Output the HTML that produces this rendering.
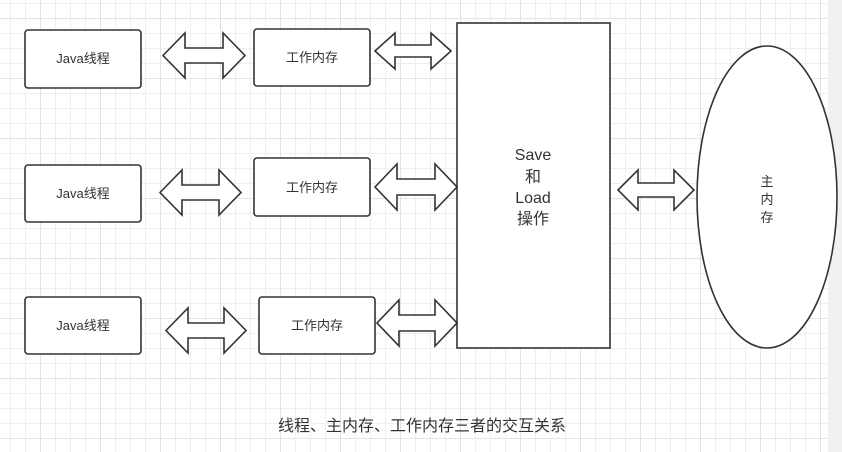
<!DOCTYPE html>
<html><head><meta charset="utf-8"><style>
html,body{margin:0;padding:0;background:#fff;}
svg{display:block;font-family:"Liberation Sans","Noto Sans CJK SC",sans-serif;}
</style></head><body>
<svg width="842" height="452" viewBox="0 0 842 452" xmlns="http://www.w3.org/2000/svg">
<defs>
<pattern id="minor" x="10" y="3" width="15" height="15" patternUnits="userSpaceOnUse">
<path d="M0 0V15M0 0H15" stroke="#eaeaea" stroke-width="1.5" fill="none"/>
</pattern>
<pattern id="major" x="40" y="18" width="60" height="60" patternUnits="userSpaceOnUse">
<path d="M0 0V60M0 0H60" stroke="#dedede" stroke-width="1.6" fill="none"/>
</pattern>
</defs>
<rect width="842" height="452" fill="#fff"/>
<rect width="828" height="452" fill="url(#minor)"/>
<rect width="828" height="452" fill="url(#major)"/>
<rect x="828" y="0" width="14" height="452" fill="#f1f1f1"/>
<g fill="#fff" stroke="#333" stroke-width="1.6">
<rect x="25" y="30" width="116" height="58" rx="3"/>
<rect x="254" y="29" width="116" height="57" rx="3"/>
<rect x="25" y="165" width="116" height="57" rx="3"/>
<rect x="254" y="158" width="116" height="58" rx="3"/>
<rect x="25" y="297" width="116" height="57" rx="3"/>
<rect x="259" y="297" width="116" height="57" rx="3"/>
<rect x="457" y="23" width="153" height="325"/>
<ellipse cx="767" cy="197" rx="70" ry="151"/>
<polygon points="163,55.5 185,33 185,48 223,48 223,33 245,55.5 223,78 223,63 185,63 185,78"/>
<polygon points="375,51 395,33 395,45 431,45 431,33 451,51 431,69 431,57 395,57 395,69"/>
<polygon points="160,192.5 182,170 182,185 219,185 219,170 241,192.5 219,215 219,200 182,200 182,215"/>
<polygon points="375,187 397,164 397,179 435,179 435,164 457,187 435,210 435,195 397,195 397,210"/>
<polygon points="166,330.5 188,308 188,323 224,323 224,308 246,330.5 224,353 224,338 188,338 188,353"/>
<polygon points="377,323 399,300 399,315 435,315 435,300 457,323 435,346 435,331 399,331 399,346"/>
<polygon points="618,190 638,170 638,183 674,183 674,170 694,190 674,210 674,197 638,197 638,210"/>
</g>
<g fill="#333" font-size="13" text-anchor="middle">
<text x="83" y="63">Java线程</text>
<text x="312" y="62">工作内存</text>
<text x="83" y="198">Java线程</text>
<text x="312" y="192">工作内存</text>
<text x="83" y="330">Java线程</text>
<text x="317" y="330">工作内存</text>
</g>
<g fill="#333" font-size="16" text-anchor="middle">
<text x="533" y="160">Save</text>
<text x="533" y="182">和</text>
<text x="533" y="203">Load</text>
<text x="533" y="224">操作</text>
</g>
<g fill="#333" font-size="13" text-anchor="middle">
<text x="767" y="186">主</text>
<text x="767" y="204">内</text>
<text x="767" y="222">存</text>
</g>
<text x="422" y="431" fill="#333" font-size="16" text-anchor="middle">线程、主内存、工作内存三者的交互关系</text>
</svg>
</body></html>
